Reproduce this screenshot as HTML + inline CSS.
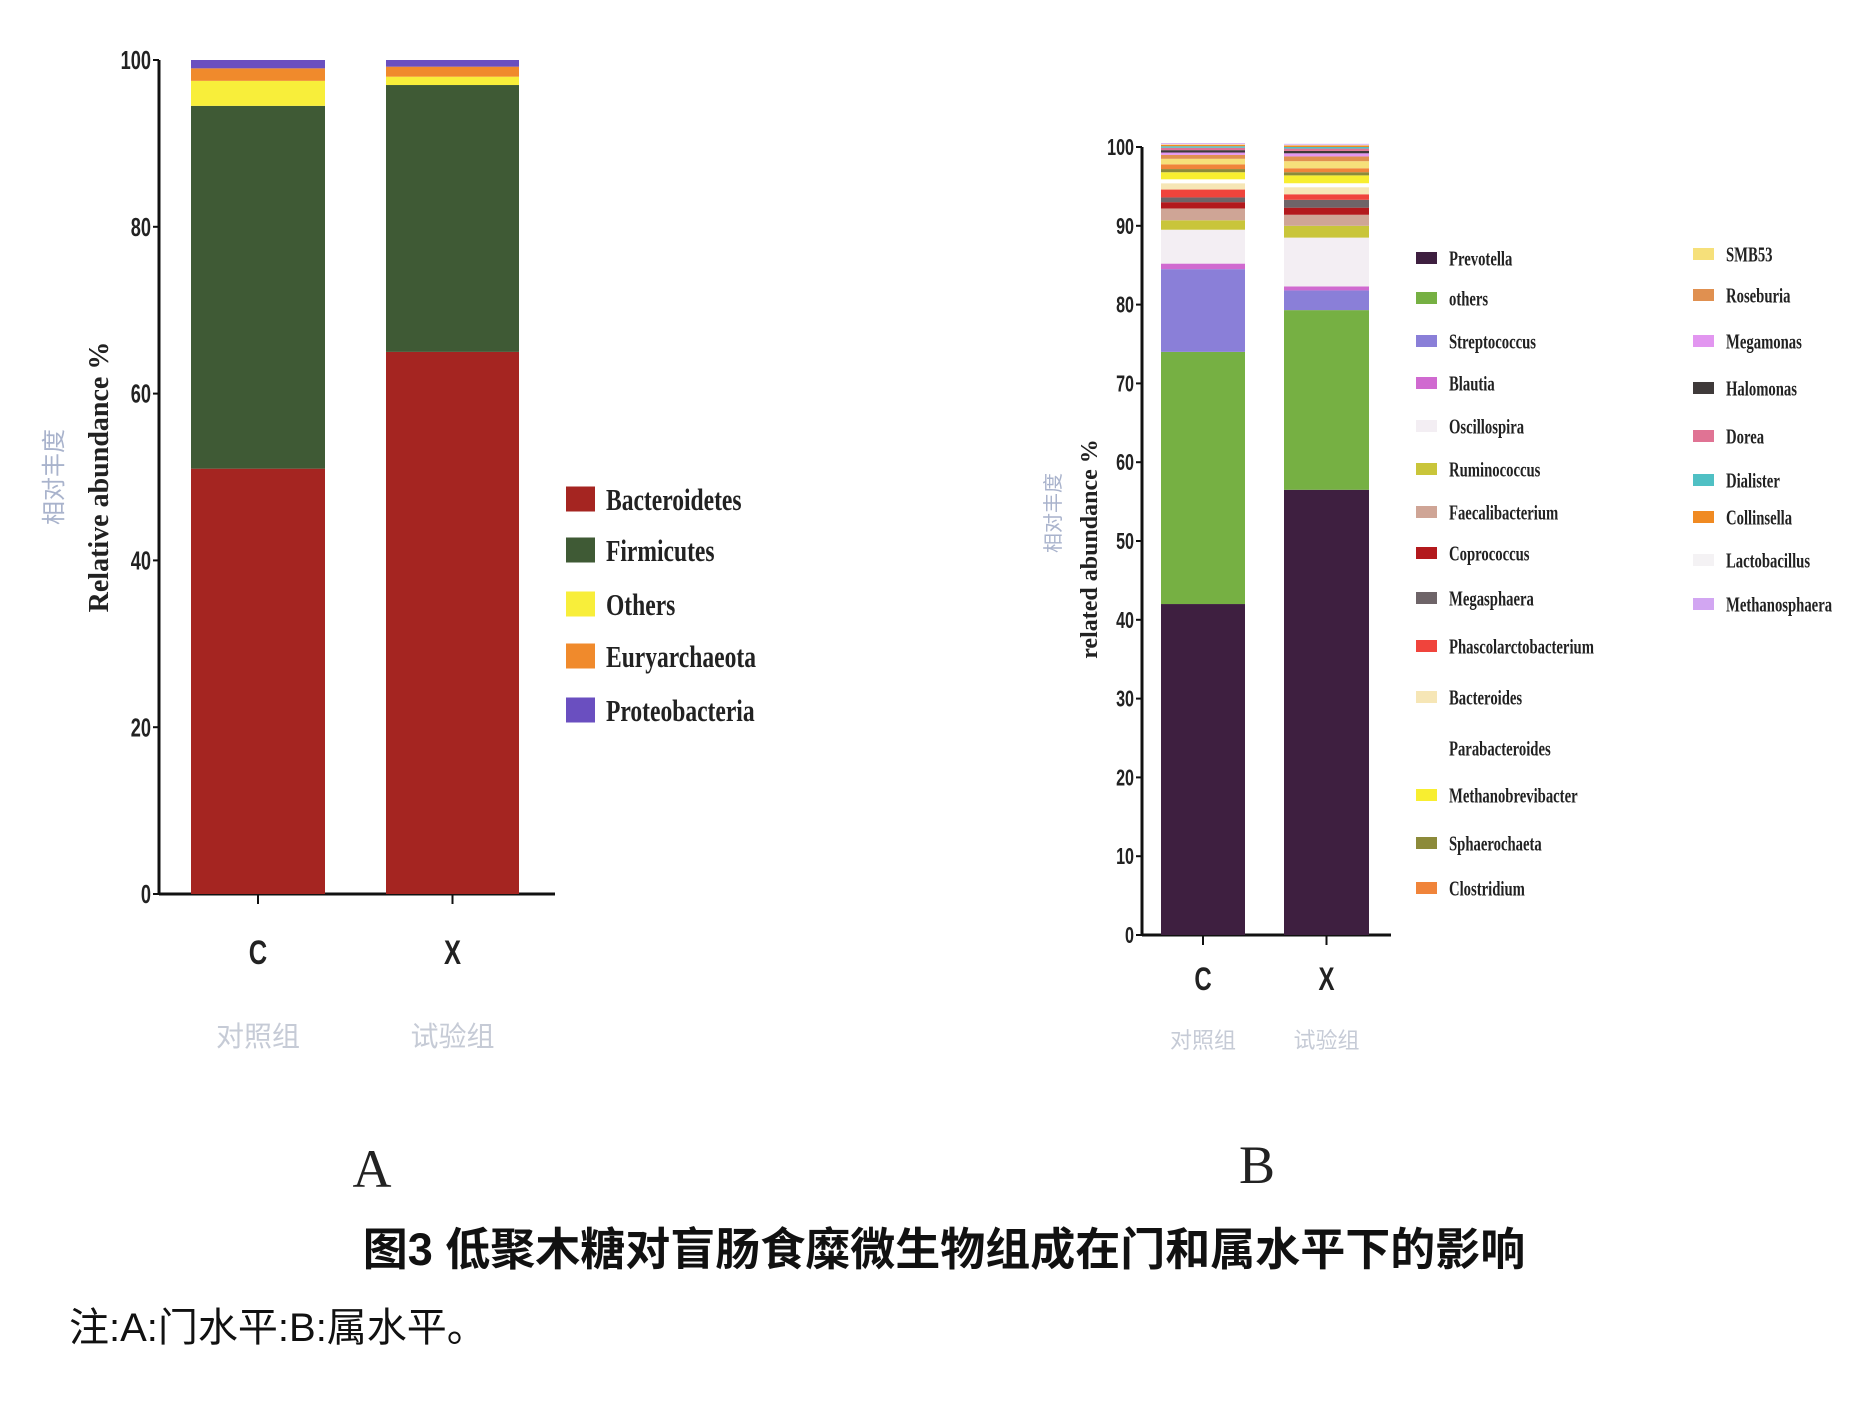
<!DOCTYPE html>
<html><head><meta charset="utf-8"><style>
html,body{margin:0;padding:0;background:#fff;}
svg{display:block;}
text{font-family:"Liberation Sans","Noto Sans CJK SC",sans-serif;}
.serif{font-family:"Liberation Serif","Noto Serif CJK SC",serif;}
</style></head><body>
<svg id="fig" width="1862" height="1424" viewBox="0 0 1862 1424" xmlns="http://www.w3.org/2000/svg">
<g id="chartA"></g>
<g id="chartB"></g>
<text class="serif" x="372" y="1187" font-size="54" text-anchor="middle" fill="#222">A</text>
<text class="serif" x="1257" y="1183" font-size="54" text-anchor="middle" fill="#222">B</text>
<text x="944" y="1265" font-size="45" font-weight="bold" text-anchor="middle" fill="#111">图3 低聚木糖对盲肠食糜微生物组成在门和属水平下的影响</text>
<text x="69" y="1341" font-size="40" fill="#111">注:A:门水平:B:属水平。</text>
</svg>
<script>
const NS="http://www.w3.org/2000/svg";
// ---- Chart A data ----
const catsA=["C","X"];
const catsACn=["对照组","试验组"];
const phyla=["Bacteroidetes","Firmicutes","Others","Euryarchaeota","Proteobacteria"];
const phylaColors=["#a52521","#3f5a35","#f8ee3a","#f08a2c","#6a4fc0"];
const valsC_A=[51,43.5,3,1.5,1];
const valsX_A=[65,32,1,1.2,0.8];
const ticksA=[0,20,40,60,80,100];
// ---- Chart B data ----
const catsB=["C","X"];
const catsBCn=["对照组","试验组"];
const genera=["Prevotella","others","Streptococcus","Blautia","Oscillospira","Ruminococcus","Faecalibacterium","Coprococcus","Megasphaera","Phascolarctobacterium","Bacteroides","Parabacteroides","Methanobrevibacter","Sphaerochaeta","Clostridium","SMB53","Roseburia","Megamonas","Halomonas","Dorea","Dialister","Collinsella","Lactobacillus","Methanosphaera"];
const genusColors=["#3e1f40","#76b043","#8a7fd8","#d06ad0","#f3eef3","#c9c53a","#cfa596","#b3191d","#6e6468","#f0443c","#f6e6b6","#ffffff","#f8ee30","#8c8a3a","#f0843a","#f6e07a","#e09050","#e296f0","#3f3a3a","#e07394","#4fc0c4","#f08a22","#f4f2f4","#d2a6f2"];
const valsC_B=[42,32,10.5,0.7,4.3,1.2,1.5,0.8,0.6,1.0,0.8,0.5,0.9,0.4,0.6,0.7,0.5,0.3,0.3,0.3,0.2,0.2,0.1,0.1];
const valsX_B=[56.5,22.8,2.5,0.5,6.2,1.5,1.4,0.9,1.0,0.7,0.9,0.5,1.0,0.4,0.5,0.9,0.6,0.4,0.3,0.3,0.2,0.2,0.1,0.1];
const ticksB=[0,10,20,30,40,50,60,70,80,90,100];

function mk(parent,tag,attrs,txt){const e=document.createElementNS(NS,tag);for(const k in attrs)e.setAttribute(k,attrs[k]);if(txt!==undefined)e.textContent=txt;parent.appendChild(e);return e;}

function drawChart(g,cfg){
  const y=v=>cfg.y0-(v/100)*(cfg.y0-cfg.y100);
  let ax=mk(g,'line',{x1:cfg.ax,y1:y(100),x2:cfg.ax,y2:y(0)+1,stroke:'#111','stroke-width':3});
  
  
  let bx=mk(g,'line',{x1:cfg.ax,y1:y(0),x2:cfg.axEnd,y2:y(0),stroke:'#111','stroke-width':3});
  
  
  cfg.ticks.forEach(t=>{
    let tl=mk(g,'line',{x1:cfg.ax-6,y1:y(t),x2:cfg.ax,y2:y(t),stroke:'#111','stroke-width':2});
    
    
    let tt=mk(g,'text',{x:cfg.ax-8,y:y(t)+cfg.tfs*0.35,'font-size':cfg.tfs,'font-weight':'bold','text-anchor':'end',fill:'#222',transform:`translate(${cfg.ax-8},0) scale(0.7,1) translate(${-(cfg.ax-8)},0)`},t);
    
    
  });
  cfg.cats.forEach((c,i)=>{
    const x0=cfg.bars[i][0],x1=cfg.bars[i][1];
    let acc=0;
    cfg.vals[i].forEach((v,j)=>{
      const r=mk(g,'rect',{x:x0,y:y(acc+v),width:x1-x0,height:Math.max(0,y(acc)-y(acc+v)),fill:cfg.colors[j]});
      
      
      acc+=v;
    });
    const cx=(x0+x1)/2;
    let tk=mk(g,'line',{x1:cx,y1:y(0),x2:cx,y2:y(0)+10,stroke:'#111','stroke-width':2});
    
    
    let cl=mk(g,'text',{x:cx,y:cfg.catY,'font-size':cfg.cfs,'font-weight':'bold','text-anchor':'middle',fill:'#222',transform:`translate(${cx},0) scale(0.75,1) translate(${-cx},0)`},c);
    
    
    let cn=mk(g,'text',{x:cx,y:cfg.cnY,'font-size':cfg.cnfs,'text-anchor':'middle',fill:'#c6cbd6'},cfg.catsCn[i]);
    
    
  });
  let yt=mk(g,'text',{x:cfg.ytx,y:cfg.yty,'font-size':cfg.ytfs,'font-weight':'bold','text-anchor':'middle',fill:'#222',class:'serif',transform:`rotate(-90 ${cfg.ytx} ${cfg.yty})`},cfg.ytitle);
  
  
  let yc=mk(g,'text',{x:cfg.ycx,y:cfg.ycy,'font-size':cfg.ytfs-4,'text-anchor':'middle',fill:'#a9b3cc',transform:`rotate(-90 ${cfg.ycx} ${cfg.ycy})`},'相对丰度');
  
  
  cfg.legend.forEach((L,k)=>{
    const idx=L[0];
    const sw=mk(g,'rect',{x:L[1],y:L[2]-cfg.sh/2,width:cfg.sw,height:cfg.sh,fill:cfg.colors[idx]});
    
    
    const lt=mk(g,'text',{x:L[3],y:L[2]+cfg.lfs*0.35,'font-size':cfg.lfs,'font-weight':'bold',fill:'#222',class:'serif',transform:`translate(${L[3]},0) scale(${cfg.lsx},1) translate(${-L[3]},0)`},cfg.series[idx]);
    
    
  });
}

drawChart(document.getElementById('chartA'),{
  y0:894,y100:60,ax:159,axEnd:555,ticks:ticksA,tfs:26,cats:catsA,catsCn:catsACn,
  bars:[[191,325],[386,519]],vals:[valsC_A,valsX_A],colors:phylaColors,series:phyla,
  catY:964,cfs:34,cnY:1046,cnfs:28,ytitle:'Relative abundance %',ytx:108,ycx:62,yty:477,ycy:477,ytfs:28,
  legend:phyla.map((p,i)=>[i,566,[499,550,604,656,710][i],606]),sw:29,sh:25,lfs:31,lsx:0.76
});
const col1Y=[258,298,341,383,426,469,512,553,598,646,697,748,795,843,888];
const col2Y=[254,295,341,388,436,480,517,560,604];
const legB=genera.map((gname,i)=>i<15?[i,1416,col1Y[i],1449]:[i,1693,col2Y[i-15],1726]);
drawChart(document.getElementById('chartB'),{
  y0:935,y100:147,ax:1142,axEnd:1391,ticks:ticksB,tfs:23,cats:catsB,catsCn:catsBCn,
  bars:[[1161,1245],[1284,1369]],vals:[valsC_B,valsX_B],colors:genusColors,series:genera,
  catY:990,cfs:32,cnY:1048,cnfs:22,ytitle:'related abundance %',ytx:1097,ycx:1060,yty:549,ycy:513,ytfs:24,
  legend:legB,sw:21,sh:12,lfs:21,lsx:0.7
});
</script>
</body></html>
